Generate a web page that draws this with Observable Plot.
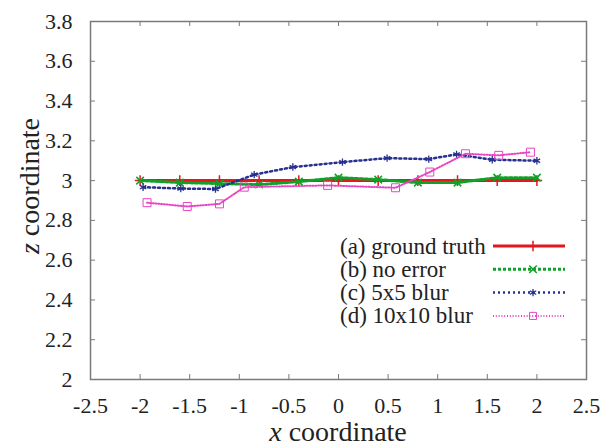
<!DOCTYPE html>
<html>
<head>
<meta charset="utf-8">
<script src="https://cdn.jsdelivr.net/npm/d3@7"></script>
<script src="https://cdn.jsdelivr.net/npm/@observablehq/plot@0.6"></script>
<style>
  html, body { margin: 0; padding: 0; background: #fff; }
  #chart { width: 601px; height: 446px; }
  #chart svg, #chart svg text, #chart svg tspan {
    font-family: "Liberation Serif", "Times New Roman", Times, Tinos, "DejaVu Serif", serif !important;
  }
</style>
</head>
<body>
<div id="chart"></div>
<script>
// ---- data ----
const xTicks = [-2.5, -2, -1.5, -1, -0.5, 0, 0.5, 1, 1.5, 2, 2.5];
const yTicks = [2, 2.2, 2.4, 2.6, 2.8, 3, 3.2, 3.4, 3.6, 3.8];

const seriesNames = ["(a) ground truth", "(b) no error", "(c) 5x5 blur", "(d) 10x10 blur"];

const truthX = [-2, -1.6, -1.2, -0.8, -0.4, 0, 0.4, 0.8, 1.2, 1.6, 2];
const truthZ = [3, 3, 3, 3, 3, 3, 3, 3, 3, 3, 3];

const noErrX = [-2, -1.6, -1.2, -0.8, -0.4, 0, 0.4, 0.8, 1.2, 1.6, 2];
const noErrZ = [3.0, 2.99, 2.985, 2.98, 2.995, 3.015, 3.005, 2.99, 2.99, 3.015, 3.015];

const blur5X = [-1.97, -1.59, -1.24, -0.85, -0.46, 0.04, 0.49, 0.91, 1.19, 1.55, 2.0];
const blur5Z = [2.967, 2.96, 2.958, 3.03, 3.068, 3.093, 3.113, 3.108, 3.132, 3.105, 3.10];

const blur10X = [-1.93, -1.525, -1.2, -0.95, -0.11, 0.575, 0.92, 1.28, 1.615, 1.935];
const blur10Z = [2.889, 2.87, 2.883, 2.967, 2.976, 2.964, 3.043, 3.135, 3.127, 3.143];

// ---- build tables ----
const toRows = (xs, zs) => xs.map((x, i) => ({x, z: zs[i]}));
const datasets = [toRows(truthX, truthZ), toRows(noErrX, noErrZ), toRows(blur5X, blur5Z), toRows(blur10X, blur10Z)];

const styles = [
  {stroke: "#e5171d", strokeWidth: 3, dash: null, symbol: "plus", r: 3.5, mw: 1.5},
  {stroke: "#12a02a", strokeWidth: 3, dash: "3,2", symbol: "times", r: 3.5, mw: 1.5},
  {stroke: "#27308f", strokeWidth: 2.5, dash: "2,3", symbol: "asterisk", r: 3.5, mw: 1.3},
  {stroke: "#e745c4", strokeWidth: 2, dash: "1,1.8", symbol: "square", r: 4.5, mw: 1}
];

const fmt = d => String(Math.round(d * 10) / 10);
const grey = "#7a7a7a";
const ink = "#222";

const marks = [
  Plot.frame({stroke: grey, strokeWidth: 1.5}),
  Plot.tickX(xTicks, {x: d => d, insetTop: 353, stroke: grey, strokeWidth: 1}),
  Plot.tickX(xTicks, {x: d => d, insetBottom: 353, stroke: grey, strokeWidth: 1}),
  Plot.tickY(yTicks, {y: d => d, insetRight: 491, stroke: grey, strokeWidth: 1}),
  Plot.tickY(yTicks, {y: d => d, insetLeft: 491, stroke: grey, strokeWidth: 1}),
  Plot.axisX({ticks: xTicks, tickSize: 0, tickPadding: 18, tickFormat: fmt, fontSize: 22, label: null, fill: ink}),
  Plot.axisY({ticks: yTicks, tickSize: 0, tickPadding: 18, tickFormat: fmt, fontSize: 22, label: null, fill: ink})
];
datasets.forEach((data, i) => {
  const s = styles[i];
  marks.push(Plot.line(data, {x: "x", y: "z", stroke: s.stroke, strokeWidth: s.strokeWidth, strokeDasharray: s.dash}));
  marks.push(Plot.dot(data, {x: "x", y: "z", stroke: s.stroke, symbol: s.symbol, r: s.r, strokeWidth: s.mw, fill: "none"}));
});

const chart = Plot.plot({
  width: 601,
  height: 446,
  marginLeft: 90,
  marginRight: 15,
  marginTop: 21,
  marginBottom: 67,
  x: {domain: [-2.5, 2.5]},
  y: {domain: [2, 3.8]},
  style: {background: "white", overflow: "visible"},
  marks
});
document.getElementById("chart").appendChild(chart);

// ---- axis titles & legend ----
const svg = d3.select(chart);
const xl = svg.append("text")
  .attr("x", 338).attr("y", 441)
  .attr("text-anchor", "middle")
  .attr("font-size", 28).attr("fill", ink);
xl.append("tspan").attr("font-style", "italic").text("x");
xl.append("tspan").text(" coordinate");

const yl = svg.append("text")
  .attr("transform", "translate(39,186) rotate(-90)")
  .attr("text-anchor", "middle")
  .attr("font-size", 28).attr("fill", ink);
yl.append("tspan").attr("font-style", "italic").text("z");
yl.append("tspan").text(" coordinate");

const leg = svg.append("g").attr("font-size", 23).attr("text-anchor", "start");
const symbolPath = {
  plus: d3.symbolPlus, times: d3.symbolTimes, asterisk: d3.symbolAsterisk, square: d3.symbolSquare2
};
seriesNames.forEach((name, i) => {
  const s = styles[i];
  const cy = 246 + i * 23.3;
  leg.append("text").attr("x", 340).attr("y", cy).attr("dy", "0.33em")
    .attr("text-anchor", "start").attr("fill", ink).text(name);
  leg.append("line").attr("x1", 493).attr("x2", 565).attr("y1", cy).attr("y2", cy)
    .attr("stroke", s.stroke).attr("stroke-width", s.strokeWidth)
    .attr("stroke-dasharray", s.dash);
  const area = Math.PI * s.r * s.r;
  leg.append("path").attr("d", d3.symbol(symbolPath[s.symbol], area)())
    .attr("transform", `translate(533,${cy})`)
    .attr("fill", "none").attr("stroke", s.stroke).attr("stroke-width", s.mw);
});
</script>
</body>
</html>
